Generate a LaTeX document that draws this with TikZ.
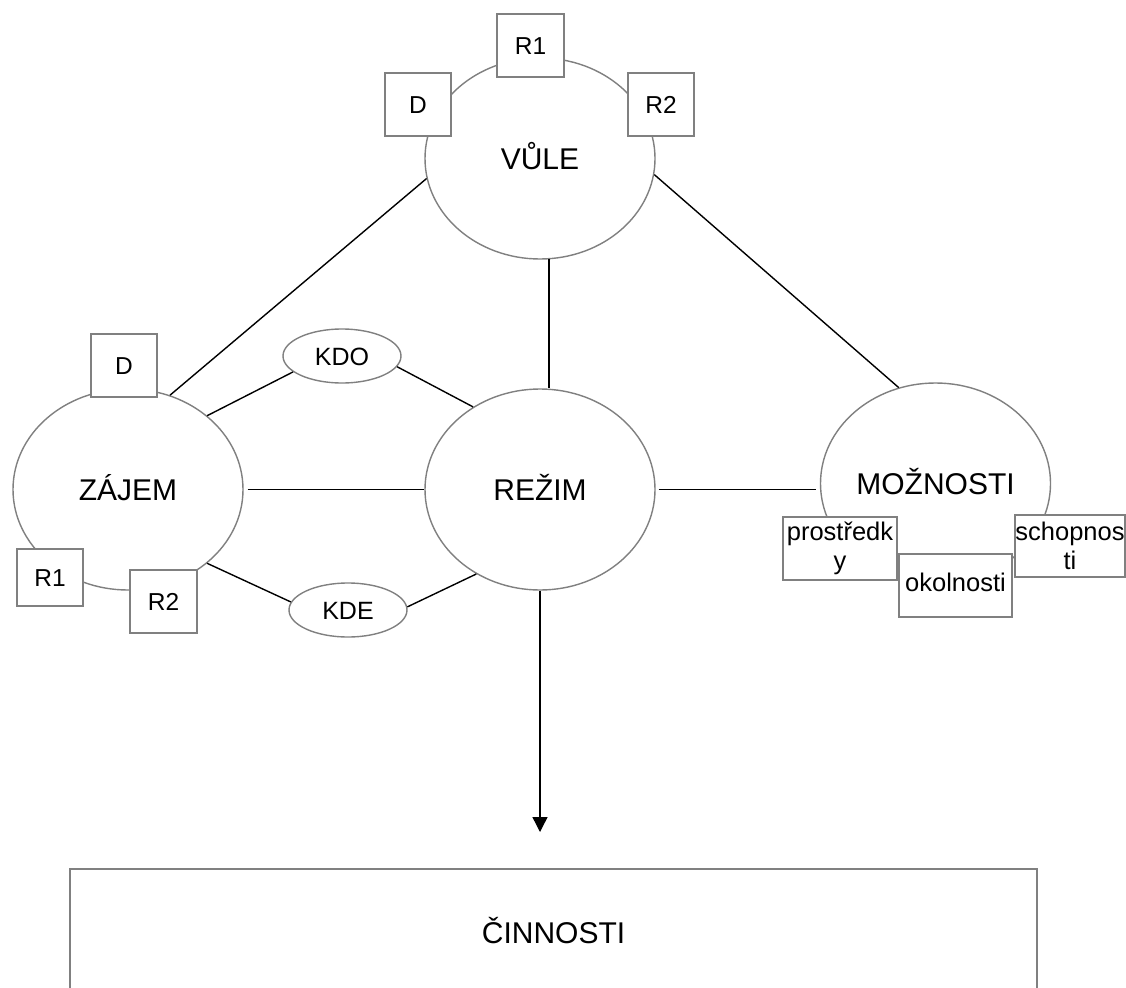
\documentclass[tikz,border=0pt]{standalone}
\usepackage{fontspec}
\setmainfont{Liberation Sans}
\usetikzlibrary{shapes.geometric,arrows.meta}
\definecolor{bordergray}{RGB}{128,128,128}
\begin{document}
\begin{tikzpicture}[x=1pt,y=-1pt,
  big/.style={ellipse,draw=bordergray,line width=1.4pt,fill=white,
    minimum width=230pt,minimum height=201pt,inner sep=0pt,
    text height=21.5pt,text depth=0pt,font=\fontsize{30}{36}\selectfont},
  smallell/.style={ellipse,draw=bordergray,line width=1.4pt,fill=white,
    minimum width=118pt,minimum height=54pt,inner sep=0pt,
    text height=18pt,text depth=0pt,font=\fontsize{25}{30}\selectfont},
  tag/.style={rectangle,draw=bordergray,line width=1.4pt,fill=white,inner sep=0pt,
    text height=17.5pt,text depth=0pt,font=\fontsize{24.5}{28}\selectfont},
  wtag/.style={rectangle,draw=bordergray,line width=1.4pt,fill=white,inner sep=0pt,
    align=center,font=\fontsize{25.5}{29}\selectfont},
  link/.style={line width=1.4pt,black}]
\useasboundingbox (0,0) rectangle (1126,987);
\clip (0,0) rectangle (1126,987);
\fill[white] (0,0) rectangle (1126,987);

% main ellipses
\node[big] (vule) at (540,158.5) {VŮLE};
\node[big] (zajem) at (128,489.5) {ZÁJEM};
\node[big] (rezim) at (540,489.5) {REŽIM};
\node[big] (moz) at (935.5,483.5) {MOŽNOSTI};
\node[smallell] (kdo) at (342,356) {KDO};
\node[smallell] (kde) at (348,610) {KDE};

% connectors
\draw[link] (vule.190.5) -- (zajem.66.4);
\draw[link] (vule.275.7) -- (vule.275.7 |- rezim.north);
\draw[link] (vule.352.8) -- (moz.111.2);
\draw[link] (zajem.43.4) -- (kdo.198.4);
\draw[link] (kdo.349.6) -- (rezim.129);
\draw[link,shorten <=4pt] (zajem.east) -- (rezim.west);
\draw[link] (zajem.317.4) -- (kde.172.3);
\draw[link] (kde.3.9) -- (rezim.233.2);
\draw[link,shorten <=3pt,shorten >=4pt] (rezim.east) -- (rezim.east -| moz.west);
\coordinate (tip) at (540,832);
\draw[link,-{Triangle[width=15pt,length=15pt]}] (rezim.south) -- (tip);

% tags on VŮLE
\node[tag,minimum width=67pt,minimum height=63pt] (vr1) at (530.5,45.5) {R1};
\node[tag,minimum width=66pt,minimum height=63pt] (vd) at (418,104.5) {D};
\node[tag,minimum width=66pt,minimum height=63pt] (vr2) at (661,104.5) {R2};

% tags on ZÁJEM
\node[tag,minimum width=66pt,minimum height=63pt] (zd) at (124,365.5) {D};
\node[tag,minimum width=66pt,minimum height=57pt] (zr1) at (50,577.5) {R1};
\node[tag,minimum width=67pt,minimum height=63pt] (zr2) at (163.5,601.5) {R2};

% tags on MOŽNOSTI
\node[wtag,minimum width=114pt,minimum height=63pt] (pro) at (840,548.5) {prostředk\\y};
\node[wtag,minimum width=113pt,minimum height=63pt,text height=17.5pt,text depth=5pt] (oko) at (955.5,585.5) {okolnosti};
\node[wtag,minimum width=110pt,minimum height=62pt] (sch) at (1070,546) {schopnos\\ti};

% activity box
\node[rectangle,draw=bordergray,line width=1.4pt,fill=white,
  minimum width=967pt,minimum height=128pt,inner sep=0pt,
  text height=21.5pt,text depth=0pt,font=\fontsize{30}{36}\selectfont]
  (cin) at (553.5,933) {ČINNOSTI};
\end{tikzpicture}
\end{document}
